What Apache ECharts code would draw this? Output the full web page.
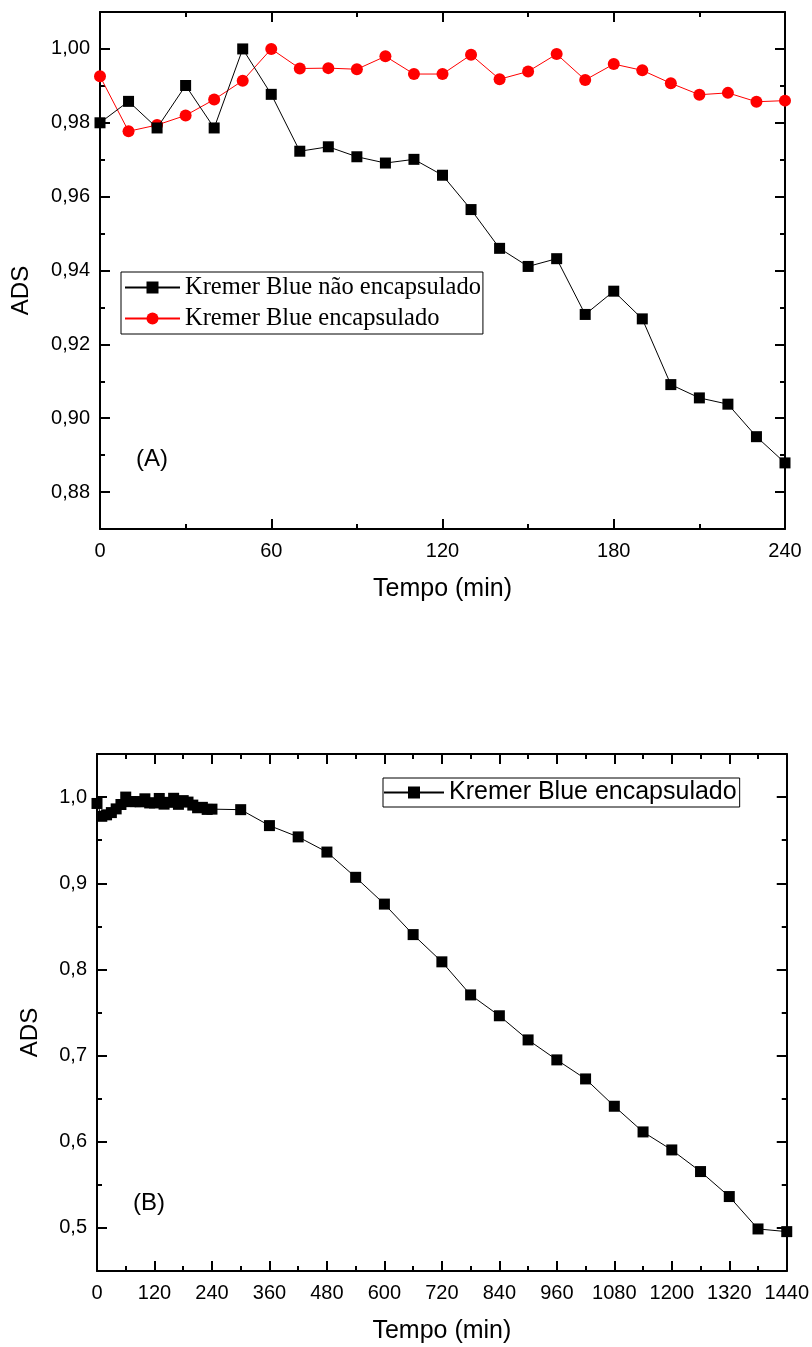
<!DOCTYPE html>
<html>
<head>
<meta charset="utf-8">
<script src="https://cdn.jsdelivr.net/npm/echarts@6/dist/echarts.min.js"></script>
<style>
html,body{margin:0;padding:0;background:#fff;}
#chart{width:812px;height:1347px;}
</style>
</head>
<body>
<div id="chart"></div>
<script>
// ---------- DATA (panel A) ----------
const timeA = [0,10,20,30,40,50,60,70,80,90,100,110,120,130,140,150,160,170,180,190,200,210,220,230,240];
const adsNaoEncapsulado = [0.980,0.9858,0.9786,0.9901,0.9786,1.000,0.9877,0.9723,0.9735,0.9708,0.9691,0.9701,0.9658,0.9565,0.946,0.9411,0.9432,0.9281,0.9344,0.9269,0.9091,0.9055,0.9038,0.895,0.8879];
const adsEncapsulado = [0.9926,0.9777,0.9794,0.982,0.9863,0.9914,1.000,0.9947,0.9948,0.9945,0.998,0.9932,0.9932,0.9984,0.9918,0.9939,0.9986,0.9916,0.9959,0.9942,0.9907,0.9876,0.9881,0.9857,0.986];
const yMajorA = [0.88,0.90,0.92,0.94,0.96,0.98,1.00];
const yMinorA = [0.87,0.89,0.91,0.93,0.95,0.97,0.99,1.01];
const nameNaoEnc = 'Kremer Blue não encapsulado';
const nameEnc = 'Kremer Blue encapsulado';

// ---------- DATA (panel B) ----------
const timeB = [0,10,20,30,40,50,60,70,80,90,100,110,120,130,140,150,160,170,180,190,200,210,220,230,240,
  300,360,420,480,540,600,660,720,780,840,900,960,1020,1080,1140,1200,1260,1320,1380,1440];
const adsEncapsuladoLongo = [0.9926,0.9777,0.9794,0.982,0.9863,0.9914,1.000,0.9947,0.9948,0.9945,0.998,0.9932,0.9932,0.9984,0.9918,0.9939,0.9986,0.9916,0.9959,0.9942,0.9907,0.9876,0.9881,0.9857,0.986,
  0.9854,0.9669,0.9538,0.9362,0.9069,0.8758,0.8404,0.8088,0.7704,0.7462,0.7182,0.695,0.6729,0.6412,0.6114,0.5905,0.5654,0.5364,0.4988,0.4957];
const yMajorB = [0.5,0.6,0.7,0.8,0.9,1.0];
const yMinorB = [0.45,0.55,0.65,0.75,0.85,0.95,1.05];
const seriesBId = 'B|Kremer Blue encapsulado';

// ---------- STYLE ----------
const SANS = 'Liberation Sans, Arial, sans-serif';
const SERIF = 'Liberation Serif, Times New Roman, serif';
const AXC = '#000';

function zip(xs, ys){ return xs.map((x,i)=>[x, ys[i]]); }

function xAxes(gi, max, interval){
  const common = {
    type:'value', gridIndex:gi, min:0, max:max, interval:interval,
    axisLine:{show:true, lineStyle:{color:AXC, width:2}},
    axisTick:{show:true, inside:true, length:10, lineStyle:{color:AXC, width:2}},
    minorTick:{show:true, splitNumber:2, length:5, lineStyle:{color:AXC, width:2}},
    splitLine:{show:false}, minorSplitLine:{show:false}
  };
  return [
    Object.assign({}, common, {
      position:'bottom',
      axisLabel:{show:true, fontSize:20, fontFamily:SANS, color:'#000', margin:12, formatter: v => String(v)},
      name:'Tempo (min)', nameLocation:'middle', nameGap:48,
      nameTextStyle:{fontSize:25, fontFamily:SANS, color:'#000'}
    }),
    Object.assign({}, common, {position:'top', axisLabel:{show:false}})
  ];
}

function yAxes(gi, min, max, majors, minors, decimals, nameGap){
  const base = {type:'value', gridIndex:gi, min:min, max:max, splitLine:{show:false}};
  const fmt = v => v.toFixed(decimals).replace('.', ',');
  return [
    Object.assign({}, base, {
      position:'left',
      axisLine:{show:true, lineStyle:{color:AXC, width:2}},
      axisTick:{show:true, inside:true, length:10, customValues:majors, lineStyle:{color:AXC, width:2}},
      axisLabel:{show:true, customValues:majors, formatter:fmt, fontSize:20, fontFamily:SANS, color:'#000', margin:10},
      name:'ADS', nameLocation:'middle', nameGap:nameGap,
      nameTextStyle:{fontSize:24, fontFamily:SANS, color:'#000', padding:[0,40,0,0]}
    }),
    Object.assign({}, base, {
      position:'left',
      axisLine:{show:false},
      axisTick:{show:true, inside:true, length:5, customValues:minors, lineStyle:{color:AXC, width:2}},
      axisLabel:{show:false}
    }),
    Object.assign({}, base, {
      position:'right',
      axisLine:{show:true, lineStyle:{color:AXC, width:2}},
      axisTick:{show:true, inside:true, length:10, customValues:majors, lineStyle:{color:AXC, width:2}},
      axisLabel:{show:false}
    }),
    Object.assign({}, base, {
      position:'right',
      axisLine:{show:false},
      axisTick:{show:true, inside:true, length:5, customValues:minors, lineStyle:{color:AXC, width:2}},
      axisLabel:{show:false}
    })
  ];
}

const option = {
  backgroundColor:'#fff',
  animation:false,
  title:[
    {text:'(A)', left:136, top:447, padding:0, textStyle:{fontSize:24, fontWeight:'normal', fontFamily:SANS, color:'#000'}},
    {text:'(B)', left:133, top:1191, padding:0, textStyle:{fontSize:24, fontWeight:'normal', fontFamily:SANS, color:'#000'}}
  ],
  grid:[
    {left:100, top:12, width:685, height:517},
    {left:97, top:754, width:691, height:517}
  ],
  xAxis: xAxes(0, 240, 60).concat(xAxes(1, 1440, 120)),
  yAxis: yAxes(0, 0.87, 1.01, yMajorA, yMinorA, 2, 67).concat(yAxes(1, 0.45, 1.05, yMajorB, yMinorB, 1, 55)),
  legend:[
    {
      data:[nameNaoEnc, nameEnc], orient:'vertical', left:121, top:272,
      padding:[3,2,3,3], itemGap:6, itemWidth:55, itemHeight:15,
      borderColor:'#000', borderWidth:1, backgroundColor:'#fff',
      textStyle:{fontFamily:SERIF, fontSize:24.5, color:'#000'},
      selectedMode:false
    },
    {
      data:[seriesBId], orient:'horizontal', left:383, top:778,
      padding:[2,3,2,0], itemWidth:60, itemHeight:15,
      borderColor:'#000', borderWidth:1, backgroundColor:'#fff',
      textStyle:{fontFamily:SANS, fontSize:25, color:'#000'},
      formatter: n => n.split('|')[1],
      selectedMode:false
    }
  ],
  series:[
    {
      name:nameNaoEnc, type:'line', xAxisIndex:0, yAxisIndex:0,
      data:zip(timeA, adsNaoEncapsulado),
      symbol:'rect', symbolSize:11, showSymbol:true,
      lineStyle:{color:'#000', width:1}, itemStyle:{color:'#000'}, z:3
    },
    {
      name:nameEnc, type:'line', xAxisIndex:0, yAxisIndex:0,
      data:zip(timeA, adsEncapsulado),
      symbol:'circle', symbolSize:12, showSymbol:true,
      lineStyle:{color:'#ff0000', width:1}, itemStyle:{color:'#ff0000'}, z:2
    },
    {
      name:seriesBId, type:'line', xAxisIndex:2, yAxisIndex:4,
      data:zip(timeB, adsEncapsuladoLongo),
      symbol:'rect', symbolSize:11, showSymbol:true,
      lineStyle:{color:'#000', width:1}, itemStyle:{color:'#000'}
    }
  ]
};

const chart = echarts.init(document.getElementById('chart'), null, {renderer:'canvas'});
chart.setOption(option);
</script>
</body>
</html>
